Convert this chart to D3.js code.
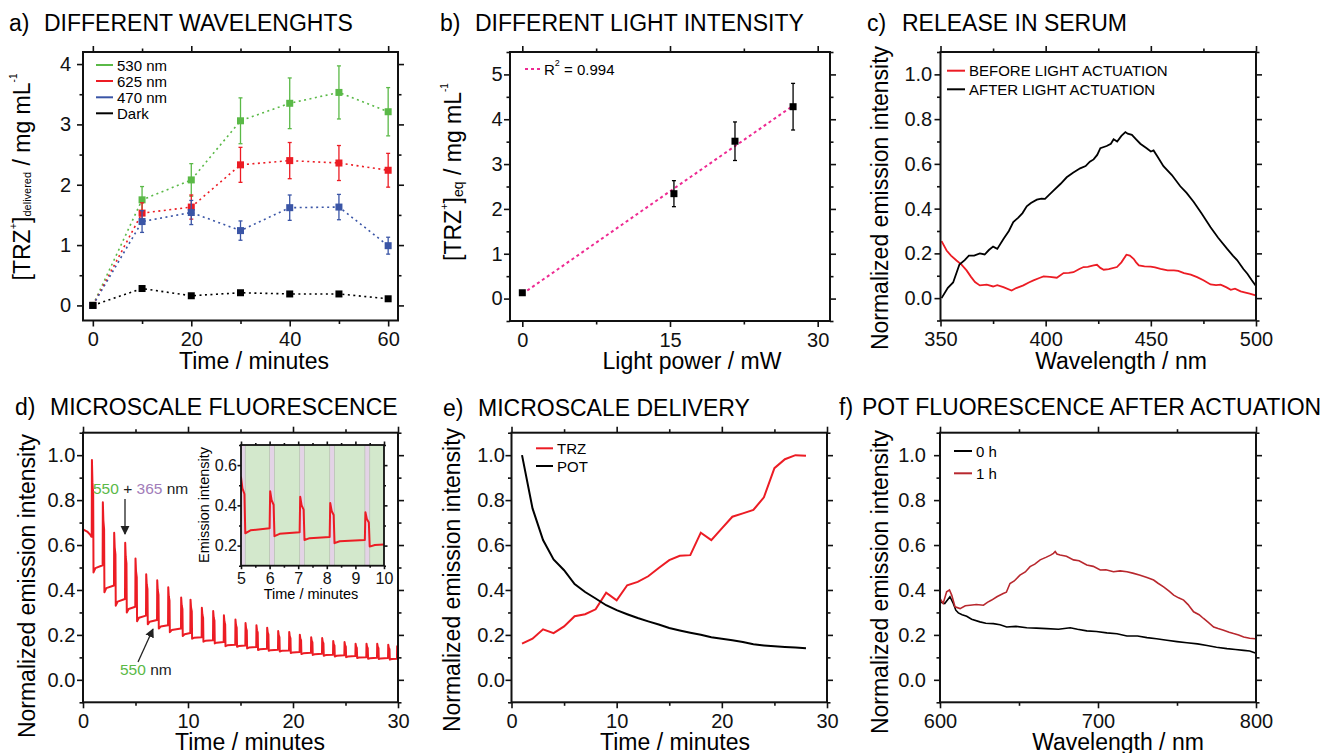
<!DOCTYPE html>
<html><head><meta charset="utf-8">
<script src="https://cdn.jsdelivr.net/npm/d3@7"></script>
<style>body{margin:0;background:#fff} svg text{font-family:"Liberation Sans",Arial,sans-serif}</style>
</head><body><svg id="chart" width="1324" height="753"></svg>
<script>
// ---------- DATA ----------
// a) different wavelengths
const aTime = [0,10,20,30,40,50,60];
const a530 = [0,1.75,2.08,3.06,3.35,3.53,3.21];
const a530Err = [0,0.22,0.27,0.38,0.42,0.44,0.40];
const a625 = [0,1.53,1.63,2.33,2.40,2.36,2.24];
const a625Err = [0,0.17,0.20,0.29,0.30,0.29,0.28];
const a470 = [0,1.39,1.54,1.24,1.62,1.63,0.99];
const a470Err = [0,0.18,0.20,0.16,0.21,0.21,0.14];
const aDark = [0,0.28,0.16,0.21,0.19,0.19,0.11];
const aDarkErr = [0,0.02,0.02,0.02,0.02,0.02,0.02];
const aSeriesNames = ["530 nm","625 nm","470 nm","Dark"];
const aXMajor=[0,20,40,60], aXMinor=[10,30,50], aYMajor=[0,1,2,3,4], aYMinor=[0.5,1.5,2.5,3.5];

// b) light intensity
const bPower = [0,15.4,21.6,27.5];
const bConc = [0.13,2.34,3.51,4.28];
const bErr = [0,0.29,0.43,0.52];
const bXMajor=[0,15,30], bXMinor=[7.5,22.5], bYMajor=[0,1,2,3,4,5], bYMinor=[-0.5,0.5,1.5,2.5,3.5,4.5,5.5];

// c) release in serum
const cAfterWl = [350.5,353.5,356,359,361.5,363.5,366,368.7,371,373,375,377,380,382.5,384.6,387,389,391,393,395.8,398,399.7,401.5,403.7,407,410,413,416.4,419,421,422.8,424.5,426,429,431,432.3,434,436,437.9,439,441,443,445,448,450,451.3,453,456,460,464,467,470.4,474,478.4,482,486.3,489,491,494,495.9,498,499.8];
const cAfter = [0.00,0.046,0.07,0.15,0.17,0.19,0.19,0.20,0.195,0.215,0.23,0.22,0.265,0.30,0.34,0.36,0.38,0.41,0.425,0.44,0.445,0.444,0.46,0.48,0.51,0.54,0.56,0.58,0.59,0.61,0.62,0.64,0.67,0.68,0.69,0.71,0.70,0.725,0.742,0.735,0.73,0.71,0.69,0.67,0.655,0.66,0.635,0.59,0.55,0.50,0.47,0.43,0.38,0.317,0.27,0.22,0.19,0.17,0.13,0.109,0.08,0.057];
const cBeforeWl = [350.5,352.9,355,357.6,360,362.4,364.5,366.4,368.7,372,375,377,379.9,383.8,386,389.4,392,394.2,397,399,402,405.3,408.5,411,413.2,416,418,420,422.8,424.4,426,427.6,430,433.9,436,438.4,440,441.8,443,444.3,447,449.9,452,454.6,458,461,463,465.8,469,472,475,478.4,481,483.2,486,488,490,492.7,495,497,499.8];
const cBefore = [0.255,0.213,0.19,0.168,0.15,0.124,0.095,0.072,0.057,0.06,0.052,0.058,0.049,0.034,0.045,0.057,0.07,0.079,0.09,0.097,0.095,0.091,0.112,0.113,0.116,0.13,0.139,0.14,0.146,0.149,0.135,0.127,0.13,0.139,0.16,0.194,0.19,0.176,0.16,0.146,0.142,0.141,0.137,0.131,0.124,0.124,0.122,0.112,0.105,0.094,0.08,0.061,0.058,0.06,0.048,0.037,0.042,0.03,0.025,0.02,0.012];
const cXMajor=[350,400,450,500], cXMinor=[375,425,475];
const normYMajor=[0,0.2,0.4,0.6,0.8,1.0], normYMinor=[-0.1,0.1,0.3,0.5,0.7,0.9,1.1];

// d) microscale fluorescence
const dInitT = [0,0.4,0.7,0.8];
const dInitV = [0.67,0.66,0.645,0.637];
const dSpikeT = [0.83,1.87,2.95,4.0,4.98,6.0,7.05,8.1,9.33,10.22,11.3,12.38,13.4,14.5,15.46,16.5,17.52,18.57,19.62,20.63,21.71,22.76,23.81,24.89,25.94,26.98,28.0,29.05,29.9];
const dPeak = [0.979,0.79,0.655,0.61,0.54,0.47,0.443,0.412,0.366,0.357,0.321,0.306,0.287,0.268,0.253,0.243,0.232,0.217,0.213,0.201,0.19,0.186,0.173,0.168,0.161,0.161,0.161,0.156,0.149];
const dTrough = [0.478,0.39,0.33,0.30,0.261,0.247,0.228,0.212,0.195,0.183,0.17,0.162,0.15,0.147,0.14,0.133,0.129,0.126,0.119,0.115,0.111,0.107,0.104,0.101,0.097,0.094,0.093,0.09,0.09];
const dPlateau = [0.51,0.42,0.36,0.325,0.286,0.266,0.243,0.228,0.208,0.19,0.176,0.168,0.156,0.153,0.146,0.138,0.134,0.131,0.124,0.12,0.116,0.112,0.109,0.106,0.101,0.098,0.097,0.094,0.093];
const dXMajor=[0,10,20,30], dXMinor=[5,15,25];
const insXMajor=[5,6,7,8,9,10], insXMinor=[5.5,6.5,7.5,8.5,9.5], insYMajor=[0.2,0.4,0.6], insYMinor=[0.1,0.3,0.5,0.7];

// e) microscale delivery
const eTime = [1,2,3,4,5,6,7,8,9,10,11,12,13,14,15,16,17,18,19,20,21,22,23,24,25,26,27,28];
const eTRZ = [0.161,0.183,0.225,0.208,0.238,0.283,0.292,0.314,0.388,0.354,0.421,0.436,0.461,0.498,0.533,0.552,0.555,0.655,0.622,0.674,0.726,0.741,0.756,0.8125,0.942,0.982,1.0,0.997];
const ePOT = [1.0,0.763,0.622,0.536,0.488,0.426,0.391,0.362,0.332,0.31,0.292,0.275,0.26,0.246,0.231,0.22,0.21,0.201,0.19,0.183,0.176,0.168,0.158,0.153,0.149,0.146,0.144,0.141];
const eXMajor=[0,10,20,30], eXMinor=[5,15,25];

// f) POT fluorescence after actuation
const f1hWl = [600,602,604.2,606,607.4,609.5,612.7,616,619,623,627.5,630,632.7,636,640,642,644.3,647,650.6,654,657,660,663.4,667,670,671.8,672.9,674,676,680,684.5,688,692.9,697,701.4,705,709.8,714,718.3,722,726.7,731,735.2,738,741.5,745,747.9,751,754.2,757,760.5,764,766.8,770,773.2,776,779.5,783,785.8,789,792.2,796,799.6];
const f1h = [0.362,0.34,0.392,0.40,0.377,0.325,0.317,0.33,0.332,0.335,0.332,0.345,0.355,0.37,0.384,0.39,0.429,0.44,0.466,0.48,0.504,0.515,0.534,0.545,0.555,0.563,0.571,0.56,0.556,0.55,0.534,0.53,0.511,0.505,0.489,0.49,0.481,0.485,0.481,0.475,0.466,0.455,0.444,0.43,0.414,0.395,0.377,0.365,0.355,0.335,0.303,0.29,0.273,0.255,0.235,0.228,0.221,0.212,0.206,0.2,0.191,0.185,0.183];
const f0hWl = [600,603,606.3,608.4,610,611.6,614,616.9,620,625.3,629,633.8,638,642.2,648,654.9,661,667.5,675,682.4,687,692.9,699,705.6,712,718.3,725,731,737,743.6,750,756.3,763,769,775,781.6,787,792.2,796,799.6];
const f0h = [0.347,0.34,0.37,0.34,0.31,0.298,0.29,0.283,0.27,0.258,0.252,0.25,0.245,0.235,0.238,0.232,0.23,0.228,0.225,0.232,0.225,0.218,0.215,0.209,0.205,0.195,0.195,0.188,0.183,0.176,0.17,0.165,0.16,0.153,0.145,0.139,0.135,0.131,0.128,0.119];
const fXMajor=[600,700,800], fXMinor=[650,750];

// ---------- DRAWING ----------
const svg = d3.select("#chart");
const FONT = '"Liberation Sans",Arial,sans-serif';
const GREEN="#5ab947", RED="#ec1c24", BLUE="#3a55a6", PINK="#ee2a92", DRED="#b8282e", PURPLE="#a27db9";

function frameAxes(x, y, o) {
  const [L,R]=x.range(), [B,T]=y.range();
  const g = svg.append("g");
  const mk = (fn, sc, vals, size, fmt, tr, pad, fs) => {
    const a = g.append("g").attr("transform", tr)
      .call(fn(sc).tickValues(vals).tickSize(size).tickPadding(pad).tickFormat(fmt));
    a.select(".domain").remove();
    a.selectAll("line").attr("stroke","#111").attr("stroke-width",1.6);
    a.selectAll("text").attr("font-size",fs).attr("font-family",FONT).attr("fill","#111");
  };
  const maj=o.maj||6, mn=o.mn||3.5, fs=o.fs||20, none=()=>"";
  mk(d3.axisBottom,x,o.xMajor,maj,o.xFmt||d3.format("d"),`translate(0,${B})`,o.xPad??5.5,fs);
  mk(d3.axisBottom,x,o.xMinor,mn,none,`translate(0,${B})`,0,fs);
  mk(d3.axisTop,x,o.xMajor,maj,none,`translate(0,${T})`,0,fs);
  mk(d3.axisTop,x,o.xMinor,mn,none,`translate(0,${T})`,0,fs);
  mk(d3.axisLeft,y,o.yMajor,maj,o.yFmt||d3.format("d"),`translate(${L},0)`,o.yPad??2,fs);
  mk(d3.axisLeft,y,o.yMinor,mn,none,`translate(${L},0)`,0,fs);
  mk(d3.axisRight,y,o.yMajor,maj,none,`translate(${R},0)`,0,fs);
  mk(d3.axisRight,y,o.yMinor,mn,none,`translate(${R},0)`,0,fs);
  g.append("rect").attr("x",L).attr("y",T).attr("width",R-L).attr("height",B-T)
    .attr("fill","none").attr("stroke","#111").attr("stroke-width",o.sw||2);
  return g;
}
function title(x, y, lab, txt) {
  svg.append("text").attr("x",x).attr("y",y).attr("font-size",23).text(lab);
  svg.append("text").attr("x",x+35).attr("y",y).attr("font-size",23).text(txt);
}
function xLabel(cx, y, txt) {
  svg.append("text").attr("x",cx).attr("y",y).attr("text-anchor","middle").attr("font-size",23).text(txt);
}
function yLabel(cx, cy, parts, fs) {
  const t = svg.append("text").attr("transform",`translate(${cx},${cy}) rotate(-90)`)
    .attr("text-anchor","middle").attr("dominant-baseline","central").attr("font-size",fs||23);
  parts.forEach(p => {
    const s = t.append("tspan").text(p.t);
    if (p.fs) s.attr("font-size",p.fs);
    if (p.dy) s.attr("dy",p.dy);
  });
  return t;
}
function legendRow(x0, x1, y, color, txt, dash, fs) {
  svg.append("line").attr("x1",x0).attr("x2",x1).attr("y1",y).attr("y2",y)
    .attr("stroke",color).attr("stroke-width",2).attr("stroke-dasharray",dash||null);
  return svg.append("text").attr("x",x1+4).attr("y",y).attr("dominant-baseline","central")
    .attr("font-size",fs||15).text(txt);
}
function clipFor(id, x, y) {
  const [L,R]=x.range(), [B,T]=y.range();
  svg.append("clipPath").attr("id",id).append("rect").attr("x",L).attr("y",T).attr("width",R-L).attr("height",B-T);
  return `url(#${id})`;
}

// ===== Panel a =====
{
  const x = d3.scaleLinear().domain([-2,62]).range([83,398]);
  const y = d3.scaleLinear().domain([-0.25,4.2]).range([320.5,52]);
  title(9,31,"a)","DIFFERENT WAVELENGHTS");
  const series = [[a530,a530Err,GREEN],[a625,a625Err,RED],[a470,a470Err,BLUE],[aDark,aDarkErr,"#000"]];
  const line = d3.line().x((d,i)=>x(aTime[i])).y(d=>y(d));
  series.forEach(([vals,errs,col]) => {
    const g = svg.append("g");
    g.append("path").attr("d",line(vals)).attr("fill","none").attr("stroke",col)
      .attr("stroke-width",1.6).attr("stroke-dasharray","2,3.5");
    vals.forEach((v,i) => {
      if (errs[i] > 0.05) {
        const cx = x(aTime[i]);
        g.append("line").attr("x1",cx).attr("x2",cx).attr("y1",y(v-errs[i])).attr("y2",y(v+errs[i])).attr("stroke",col).attr("stroke-width",1.3);
        [v-errs[i], v+errs[i]].forEach(e => g.append("line").attr("x1",cx-2).attr("x2",cx+2).attr("y1",y(e)).attr("y2",y(e)).attr("stroke",col).attr("stroke-width",1.3));
      }
    });
    g.selectAll("rect").data(vals).join("rect")
      .attr("x",(d,i)=>x(aTime[i])-3.5).attr("y",d=>y(d)-3.5).attr("width",7).attr("height",7).attr("fill",col);
  });
  frameAxes(x,y,{xMajor:aXMajor,xMinor:aXMinor,yMajor:aYMajor,yMinor:aYMinor,yPad:6});
  const cols=[GREEN,RED,BLUE,"#000"], ys=[65,81,97.3,113.3];
  aSeriesNames.forEach((n,i)=>legendRow(96,113,ys[i],cols[i],n));
  xLabel(254,368.5,"Time / minutes");
  yLabel(22,177,[{t:"[TRZ"},{t:"+",fs:11,dy:-9},{t:"]",dy:9},{t:"delivered",fs:11,dy:5},{t:" / mg mL",dy:-5},{t:"-1",fs:10,dy:-9}]);
}

// ===== Panel b =====
{
  const x = d3.scaleLinear().domain([-1.25,31.25]).range([510,830]);
  const y = d3.scaleLinear().domain([-0.5,5.5]).range([321,52]);
  title(440,31,"b)","DIFFERENT LIGHT INTENSITY");
  // least-squares fit from data
  const mx = d3.mean(bPower), my = d3.mean(bConc);
  const slope = d3.sum(bPower,(p,i)=>(p-mx)*(bConc[i]-my)) / d3.sum(bPower,p=>(p-mx)*(p-mx));
  const icpt = my - slope*mx;
  const xs = d3.extent(bPower);
  svg.append("line").attr("x1",x(xs[0])).attr("x2",x(xs[1])).attr("y1",y(icpt+slope*xs[0])).attr("y2",y(icpt+slope*xs[1]))
    .attr("stroke",PINK).attr("stroke-width",2).attr("stroke-dasharray","3,3");
  bConc.forEach((v,i)=>{
    if (bErr[i]>0) {
      const cx=x(bPower[i]);
      svg.append("line").attr("x1",cx).attr("x2",cx).attr("y1",y(v-bErr[i])).attr("y2",y(v+bErr[i])).attr("stroke","#000").attr("stroke-width",1.3);
      [v-bErr[i],v+bErr[i]].forEach(e=>svg.append("line").attr("x1",cx-2).attr("x2",cx+2).attr("y1",y(e)).attr("y2",y(e)).attr("stroke","#000").attr("stroke-width",1.3));
    }
  });
  svg.append("g").selectAll("rect").data(bConc).join("rect")
    .attr("x",(d,i)=>x(bPower[i])-3.5).attr("y",d=>y(d)-3.5).attr("width",7).attr("height",7).attr("fill","#000");
  frameAxes(x,y,{xMajor:bXMajor,xMinor:bXMinor,yMajor:bYMajor,yMinor:bYMinor,yPad:1.5});
  const lt = legendRow(525,540,69,PINK,"",'3,3');
  lt.append("tspan").text("R");
  lt.append("tspan").text("2").attr("font-size",9).attr("dy",-6);
  lt.append("tspan").text(" = 0.994").attr("dy",6);
  xLabel(692,368.5,"Light power / mW");
  yLabel(453,172,[{t:"[TRZ"},{t:"+",fs:11,dy:-9},{t:"]",dy:9},{t:"eq",fs:14,dy:5},{t:" / mg mL",dy:-5},{t:"-1",fs:10,dy:-9}]);
}

// ===== Panel c =====
{
  const x = d3.scaleLinear().domain([350,500]).range([940.5,1256]);
  const y = d3.scaleLinear().domain([-0.1,1.1]).range([320.5,52]);
  title(867,31,"c)","RELEASE IN SERUM");
  const clip = clipFor("clipc",x,y);
  svg.append("path").attr("clip-path",clip).attr("d",d3.line().x((d,i)=>x(cBeforeWl[i])).y(d=>y(d))(cBefore))
    .attr("fill","none").attr("stroke",RED).attr("stroke-width",1.8);
  svg.append("path").attr("clip-path",clip).attr("d",d3.line().x((d,i)=>x(cAfterWl[i])).y(d=>y(d))(cAfter))
    .attr("fill","none").attr("stroke","#000").attr("stroke-width",1.8);
  frameAxes(x,y,{xMajor:cXMajor,xMinor:cXMinor,yMajor:normYMajor,yMinor:normYMinor,yFmt:d3.format(".1f"),yPad:2.3});
  legendRow(947,965,70.7,RED,"BEFORE LIGHT ACTUATION");
  legendRow(947,965,89.3,"#000","AFTER LIGHT ACTUATION");
  xLabel(1121,368.5,"Wavelength / nm");
  yLabel(880,198,[{t:"Normalized emission intensity"}]);
}

// build d curve points from spike arrays
function dCurve() {
  const pts = dInitT.map((t,i)=>[t,dInitV[i]]);
  dSpikeT.forEach((t,i)=>{
    const pre = i===0 ? dInitV[dInitV.length-1] : dPlateau[i-1];
    const pk=dPeak[i], tr=dTrough[i], pl=dPlateau[i];
    const next = i<dSpikeT.length-1 ? dSpikeT[i+1] : 30.5;
    pts.push([t,pre],[t+0.02,pk],[t+0.07,pk-0.2*(pk-tr)],[t+0.14,pk-0.3*(pk-tr)],[t+0.17,tr],[t+0.35,tr+0.6*(pl-tr)],[next,pl]);
  });
  return pts;
}

// ===== Panel d =====
{
  const x = d3.scaleLinear().domain([0,30]).range([83,398]);
  const y = d3.scaleLinear().domain([-0.1,1.1]).range([702.3,432.7]);
  title(15,415,"d)","MICROSCALE FLUORESCENCE");
  const clip = clipFor("clipd",x,y);
  const pts = dCurve();
  svg.append("path").attr("clip-path",clip).attr("d",d3.line().x(d=>x(d[0])).y(d=>y(d[1]))(pts))
    .attr("fill","none").attr("stroke",RED).attr("stroke-width",2).attr("stroke-linejoin","round");
  frameAxes(x,y,{xMajor:dXMajor,xMinor:dXMinor,yMajor:normYMajor,yMinor:normYMinor,yFmt:d3.format(".1f"),yPad:1.7});

  // annotations
  const defs = svg.append("defs");
  defs.append("marker").attr("id","arr").attr("viewBox","0 0 10 10").attr("refX",9).attr("refY",5)
    .attr("markerWidth",7).attr("markerHeight",7).attr("orient","auto")
    .append("path").attr("d","M0,0L10,5L0,10z").attr("fill","#222");
  const t1 = svg.append("text").attr("x",93).attr("y",494).attr("font-size",15.5);
  t1.append("tspan").text("550").attr("fill",GREEN);
  t1.append("tspan").text(" + ").attr("fill","#222");
  t1.append("tspan").text("365").attr("fill",PURPLE);
  t1.append("tspan").text(" nm").attr("fill","#222");
  svg.append("line").attr("x1",125).attr("y1",499).attr("x2",125).attr("y2",534).attr("stroke","#222").attr("stroke-width",1.3).attr("marker-end","url(#arr)");
  const t2 = svg.append("text").attr("x",120).attr("y",675).attr("font-size",15.5);
  t2.append("tspan").text("550").attr("fill",GREEN);
  t2.append("tspan").text(" nm").attr("fill","#222");
  svg.append("line").attr("x1",138).attr("y1",662).attr("x2",153).attr("y2",629).attr("stroke","#222").attr("stroke-width",1.3).attr("marker-end","url(#arr)");

  // inset
  const xi = d3.scaleLinear().domain([5,10]).range([241,384]);
  const yi = d3.scaleLinear().domain([0.1,0.7]).range([565.7,445]);
  svg.append("rect").attr("x",241).attr("y",445).attr("width",143).attr("height",120.7).attr("fill","#d3e8cc");
  const clipI = clipFor("clipi",xi,yi);
  const bands = svg.append("g").attr("clip-path",clipI);
  dSpikeT.forEach(t=>{
    bands.append("rect").attr("x",xi(t)).attr("y",445).attr("width",xi(t+0.17)-xi(t)).attr("height",120.7)
      .attr("fill","#e3d3e6").attr("stroke","#b9c4b3").attr("stroke-width",0.8);
  });
  svg.append("path").attr("clip-path",clipI).attr("d",d3.line().x(d=>xi(d[0])).y(d=>yi(d[1]))(pts))
    .attr("fill","none").attr("stroke",RED).attr("stroke-width",2).attr("stroke-linejoin","round");
  frameAxes(xi,yi,{xMajor:insXMajor,xMinor:insXMinor,yMajor:insYMajor,yMinor:insYMinor,yFmt:d3.format(".1f"),maj:3.5,mn:2,fs:16,xPad:3,yPad:0.5,sw:1.8});
  svg.append("text").attr("x",311).attr("y",599).attr("text-anchor","middle").attr("font-size",14.5).text("Time / minutes");
  yLabel(203.5,505,[{t:"Emission intensity"}],14.5);
  xLabel(250,750,"Time / minutes");
  yLabel(27,586,[{t:"Normalized emission intensity"}]);
}

// ===== Panel e =====
{
  const x = d3.scaleLinear().domain([0,30]).range([511.5,827]);
  const y = d3.scaleLinear().domain([-0.1,1.1]).range([702.3,432.7]);
  title(443,415.5,"e)","MICROSCALE DELIVERY");
  const line = d3.line().x((d,i)=>x(eTime[i])).y(d=>y(d));
  svg.append("path").attr("d",line(eTRZ)).attr("fill","none").attr("stroke",RED).attr("stroke-width",2);
  svg.append("path").attr("d",line(ePOT)).attr("fill","none").attr("stroke","#000").attr("stroke-width",2);
  frameAxes(x,y,{xMajor:eXMajor,xMinor:eXMinor,yMajor:normYMajor,yMinor:normYMinor,yFmt:d3.format(".1f"),yPad:0.5});
  legendRow(536,553,448.3,RED,"TRZ");
  legendRow(536,553,466,"#000","POT");
  xLabel(675,750,"Time / minutes");
  yLabel(452,580,[{t:"Normalized emission intensity"}]);
}

// ===== Panel f =====
{
  const x = d3.scaleLinear().domain([600,800]).range([940,1256]);
  const y = d3.scaleLinear().domain([-0.1,1.1]).range([702.3,432.7]);
  title(839,415,"f)","");
  svg.append("text").attr("x",862).attr("y",415).attr("font-size",23).text("POT FLUORESCENCE AFTER ACTUATION");
  const clip = clipFor("clipf",x,y);
  svg.append("path").attr("clip-path",clip).attr("d",d3.line().x((d,i)=>x(f0hWl[i])).y(d=>y(d))(f0h))
    .attr("fill","none").attr("stroke","#000").attr("stroke-width",1.6);
  svg.append("path").attr("clip-path",clip).attr("d",d3.line().x((d,i)=>x(f1hWl[i])).y(d=>y(d))(f1h))
    .attr("fill","none").attr("stroke",DRED).attr("stroke-width",1.6);
  frameAxes(x,y,{xMajor:fXMajor,xMinor:fXMinor,yMajor:normYMajor,yMinor:normYMinor,yFmt:d3.format(".1f"),yPad:8});
  legendRow(954,972,451,"#000","0 h");
  legendRow(954,972,473.3,DRED,"1 h");
  xLabel(1118,750,"Wavelength / nm");
  yLabel(880,582,[{t:"Normalized emission intensity"}]);
}
</script></body></html>
